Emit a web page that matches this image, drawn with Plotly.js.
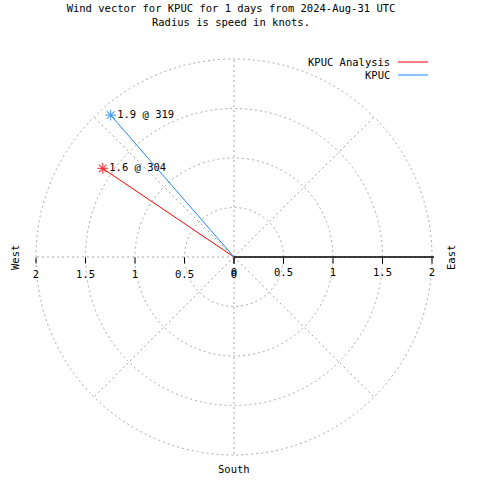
<!DOCTYPE html>
<html>
<head>
<meta charset="utf-8">
<script src="https://cdn.plot.ly/plotly-3.0.1.min.js"></script>
<style>html,body{margin:0;padding:0;background:#fff;}#chart{width:480px;height:480px;}</style>
</head>
<body>
<div id="chart"></div>
<script>
// ---- data ----
const stations = ['KPUC Analysis', 'KPUC'];
const speeds = [1.6, 1.9];          // knots
const directions = [304, 319];      // degrees (compass)
const colors = ['#ff0000', '#1a86ff'];
const radialTicks = [0, 0.5, 1, 1.5, 2];
const radialTickText = ['0', '0.5', '1', '1.5', '2'];
const titleLines = ['Wind vector for KPUC for 1 days from 2024-Aug-31 UTC', 'Radius is speed in knots.'];
const compassLabels = ['West', 'East', 'South'];

const FONT = 'DejaVu Sans Mono, Liberation Mono, monospace';
const RMAX = 2.02;
const R2PX = 198 / 2 * RMAX;   // outer radius in px so that r=2 sits 198px from centre
const CX = 234, CY = 257;
const dom = {x: [(CX - R2PX)/480, (CX + R2PX)/480], y: [(480 - CY - R2PX)/480, (480 - CY + R2PX)/480]};
const GRID = '#a8a8a8';
const DASH = '2px,3px';

const traces = stations.map((name, i) => ({
  type: 'scatterpolar',
  subplot: 'polar',
  name: name,
  r: [0, speeds[i]],
  theta: [directions[i], directions[i]],
  mode: 'lines+markers+text',
  line: {color: colors[i], width: 1},
  marker: {symbol: 'asterisk-open', size: [0, 9], color: colors[i], line: {color: colors[i], width: 1.2}},
  text: ['', speeds[i].toFixed(1) + ' @ ' + directions[i]],
  textposition: 'middle right',
  textfont: {family: FONT, size: 10.5, color: '#000'},
  showlegend: false,
  hoverinfo: 'skip'
}));

// dummy trace to activate second polar subplot (left-side labels)
traces.push({type: 'scatterpolar', subplot: 'polar2', r: [0], theta: [0], mode: 'markers',
  marker: {size: 0, opacity: 0}, showlegend: false, hoverinfo: 'skip'});

const annotations = [];
// legend (gnuplot style: text then line sample)
stations.forEach((name, i) => {
  const y = 62 + i * 13;
  annotations.push({xref: 'paper', yref: 'paper', x: 392/480, y: 1 - y/480, xanchor: 'right', yanchor: 'middle',
    text: name, showarrow: false, font: {family: FONT, size: 10.5, color: '#000'}});
});
// compass labels
annotations.push({xref: 'paper', yref: 'paper', x: 15/480, y: 1 - 258/480, xanchor: 'center', yanchor: 'middle',
  text: compassLabels[0], textangle: -90, showarrow: false, font: {family: FONT, size: 10.5, color: '#000'}});
annotations.push({xref: 'paper', yref: 'paper', x: 451/480, y: 1 - 258/480, xanchor: 'center', yanchor: 'middle',
  text: compassLabels[1], textangle: -90, showarrow: false, font: {family: FONT, size: 10.5, color: '#000'}});
annotations.push({xref: 'paper', yref: 'paper', x: 234/480, y: 1 - 469/480, xanchor: 'center', yanchor: 'middle',
  text: compassLabels[2], showarrow: false, font: {family: FONT, size: 10.5, color: '#000'}});

const shapes = stations.map((name, i) => {
  const y = 1 - (62 + i * 13) / 480;
  return {type: 'line', xref: 'paper', yref: 'paper', x0: 398/480, x1: 428/480, y0: y, y1: y,
    line: {color: colors[i], width: 1}};
});

const layout = {
  width: 480, height: 480,
  margin: {l: 0, r: 0, t: 0, b: 0},
  paper_bgcolor: '#fff',
  showlegend: false,
  font: {family: FONT, size: 10.5, color: '#000'},
  title: {text: titleLines.join('<br>'), x: 231/480, xanchor: 'center', xref: 'paper',
    y: 1 - 12/480, yanchor: 'top', yref: 'paper', font: {family: FONT, size: 10.5, color: '#000'}},
  polar: {
    domain: dom,
    bgcolor: 'rgba(0,0,0,0)',
    angularaxis: {direction: 'clockwise', rotation: 90, dtick: 45, showticklabels: false, ticks: '',
      showline: false, showgrid: true, gridcolor: GRID, griddash: DASH, gridwidth: 1},
    radialaxis: {range: [0, RMAX], angle: 0, side: 'clockwise', tickvals: radialTicks, ticktext: radialTickText,
      showline: true, linecolor: '#000', linewidth: 1.5, ticks: 'outside', ticklen: 6, tickcolor: '#000',
      showgrid: true, gridcolor: GRID, griddash: DASH, gridwidth: 1,
      tickfont: {family: FONT, size: 10.5, color: '#000'}}
  },
  polar2: {
    domain: dom,
    bgcolor: 'rgba(0,0,0,0)',
    angularaxis: {visible: false, direction: 'clockwise', rotation: 90},
    radialaxis: {range: [0, RMAX], angle: 180, side: 'counterclockwise', tickangle: 180,
      tickvals: radialTicks, ticktext: radialTickText,
      showline: false, ticks: 'outside', ticklen: 6, tickcolor: '#000', showgrid: false,
      tickfont: {family: FONT, size: 10.5, color: '#000'}}
  },
  annotations: annotations,
  shapes: shapes
};

Plotly.newPlot('chart', traces, layout, {displayModeBar: false, staticPlot: true});
</script>
</body>
</html>
